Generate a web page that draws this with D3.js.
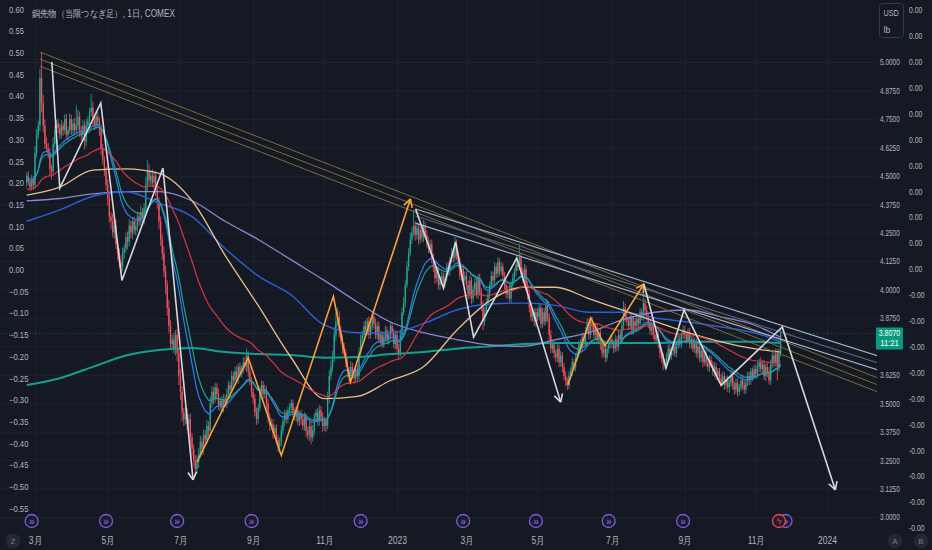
<!DOCTYPE html>
<html>
<head>
<meta charset="utf-8">
<script src="https://cdn.jsdelivr.net/npm/d3@7"></script>
<style>
html, body { margin: 0; padding: 0; background: #151924; }
svg { display: block; }
text { font-family: "Liberation Sans", Roboto, sans-serif; }
</style>
</head>
<body>
<svg id="chart" width="932" height="550"></svg>
<script>
// ---- data ----
var firstDay = new Date(2022, 1, 22);
var firstOpen = 4.47;

// daily closes, Feb 22 2022 .. Nov 22 2023 (weekdays)
var closes = [
  4.50,4.47,4.45,4.48,4.46,                                                        // Feb 22
  4.60,4.68,4.72,4.93,4.82,4.72,4.64,4.62,4.60,4.53,4.52,4.64,4.70,4.73,4.71,4.68,4.72,4.70,4.75,4.68,4.70,4.75,4.70, // Mar
  4.73,4.70,4.72,4.76,4.70,4.68,4.72,4.65,4.72,4.74,4.78,4.80,4.74,4.72,4.76,4.74,4.70,4.62,4.57,4.52,4.46, // Apr
  4.40,4.32,4.30,4.25,4.28,4.20,4.16,4.12,4.10,4.16,4.18,4.23,4.21,4.28,4.25,4.30,4.26,4.28,4.32,4.30,4.34,4.31, // May
  4.36,4.46,4.52,4.48,4.50,4.47,4.50,4.44,4.38,4.30,4.22,4.16,4.08,4.02,3.92,3.84,3.76,3.78,3.74,3.80,3.72,3.62, // Jun
  3.55,3.46,3.43,3.45,3.41,3.43,3.35,3.30,3.25,3.21,3.24,3.28,3.33,3.30,3.36,3.34,3.40,3.38,3.50,3.55,3.52, // Jul
  3.57,3.54,3.49,3.51,3.48,3.52,3.50,3.54,3.58,3.56,3.62,3.60,3.64,3.61,3.66,3.63,3.65,3.68,3.66,3.71,3.64,3.60,3.55, // Aug
  3.52,3.46,3.43,3.48,3.55,3.58,3.54,3.56,3.50,3.44,3.40,3.41,3.37,3.39,3.34,3.31,3.33,3.38,3.42,3.45,3.43,3.47, // Sep
  3.48,3.50,3.46,3.44,3.47,3.42,3.45,3.43,3.40,3.44,3.38,3.36,3.40,3.35,3.38,3.44,3.46,3.42,3.47,3.44,3.40, // Oct
  3.42,3.40,3.52,3.62,3.66,3.70,3.80,3.86,3.88,3.82,3.78,3.74,3.72,3.68,3.64,3.62,3.66,3.63,3.61,3.65,3.62,3.72, // Nov
  3.78,3.80,3.84,3.82,3.86,3.80,3.84,3.88,3.85,3.80,3.84,3.78,3.80,3.76,3.79,3.82,3.78,3.80,3.84,3.81,3.76,3.80, // Dec
  3.74,3.72,3.80,3.90,3.94,4.02,4.10,4.16,4.22,4.25,4.28,4.24,4.27,4.22,4.26,4.23,4.28,4.24,4.21,4.18,4.20,4.14, // Jan 2023
  4.10,4.05,4.08,4.02,4.04,4.06,4.03,4.05,4.10,4.08,4.13,4.16,4.14,4.20,4.15,4.12,4.06,4.09,4.04,4.06, // Feb
  4.02,3.98,4.04,3.96,4.00,4.03,3.98,4.05,3.99,3.93,3.86,3.90,3.94,3.98,4.02,4.06,4.04,4.10,4.07,4.12,4.08,4.10,4.06, // Mar
  4.02,3.98,4.00,3.96,4.02,4.05,4.08,4.11,4.10,4.14,4.08,4.05,4.09,4.02,3.98,3.92,3.88,3.90,3.86,3.90, // Apr
  3.88,3.92,3.85,3.90,3.86,3.93,3.88,3.80,3.74,3.76,3.72,3.70,3.74,3.68,3.71,3.66,3.62,3.60,3.58,3.62,3.64,3.68,3.66, // May
  3.70,3.72,3.76,3.74,3.79,3.77,3.82,3.85,3.80,3.86,3.84,3.80,3.83,3.78,3.81,3.76,3.72,3.74,3.70,3.74,3.76,3.78, // Jun
  3.76,3.74,3.78,3.75,3.80,3.78,3.84,3.92,3.88,3.86,3.84,3.88,3.82,3.86,3.84,3.87,3.85,3.90,3.88,3.94,3.91, // Jul
  3.88,3.85,3.82,3.84,3.80,3.78,3.80,3.76,3.72,3.70,3.67,3.68,3.70,3.74,3.71,3.73,3.75,3.72,3.76,3.78,3.76,3.80,3.82, // Aug
  3.80,3.78,3.81,3.76,3.78,3.74,3.77,3.72,3.75,3.70,3.73,3.68,3.71,3.68,3.66,3.69,3.67,3.64,3.66,3.62,3.64, // Sep
  3.61,3.59,3.62,3.58,3.60,3.57,3.59,3.62,3.58,3.56,3.59,3.55,3.57,3.60,3.58,3.56,3.59,3.62,3.60,3.64,3.62,3.65, // Oct
  3.63,3.66,3.68,3.65,3.67,3.62,3.66,3.64,3.60,3.67,3.71,3.68,3.72,3.66,3.72,3.807 // Nov
];

// wick above / below the body, in thousandths
var hiPad = [
  15,20,12,25,18,
  30,25,22,40,110,35,28,30,25,20,18,30,22,15,20,18,25,14,20,22,16,25,18,
  20,25,90,30,22,18,25,20,30,22,18,60,25,20,30,22,18,25,20,15,20,
  25,30,20,35,25,28,22,20,30,25,18,20,25,30,22,18,20,25,22,20,28,18,
  20,35,50,30,25,28,22,20,18,25,20,22,30,25,20,35,25,20,30,22,25,20,
  30,25,20,35,28,22,25,20,18,22,30,25,28,20,25,22,28,20,30,25,22,
  20,18,25,15,22,20,18,25,20,15,22,18,20,25,15,20,18,22,25,30,18,20,15,
  18,20,22,15,25,20,18,22,15,20,18,22,20,15,18,22,20,25,18,22,20,15,
  20,18,15,22,18,20,15,22,18,20,15,18,22,20,25,18,15,20,22,18,20,
  20,18,30,25,28,30,35,40,40,25,22,20,25,18,22,20,25,18,20,22,18,25,
  22,18,20,25,15,22,20,18,15,22,18,20,15,18,20,22,15,18,20,15,18,20,
  18,20,25,22,28,20,25,22,30,25,70,20,25,18,22,20,25,18,20,22,18,20,
  18,20,15,22,18,20,15,22,18,20,15,22,18,30,20,18,22,15,20,18,
  20,18,22,15,18,20,22,18,20,15,18,22,20,18,15,22,18,20,15,22,18,20,15,
  18,20,15,22,18,20,15,22,18,60,20,18,22,15,20,18,22,15,18,20,
  18,22,15,20,18,25,20,15,22,18,20,15,22,18,20,15,18,22,15,20,18,22,15,
  18,20,15,22,18,20,15,22,25,18,20,15,22,18,20,15,22,18,20,15,18,20,
  15,18,20,15,22,18,20,30,18,20,15,22,18,20,15,22,18,20,15,90,20,
  18,15,20,18,15,22,18,20,15,18,20,15,22,18,20,15,18,22,15,20,18,15,22,
  20,15,18,22,15,20,18,15,22,18,20,15,18,22,15,20,18,15,20,18,15,
  15,18,20,15,18,22,15,20,18,15,20,18,15,22,18,20,15,18,20,15,18,20,
  18,20,15,22,18,20,15,18,20,22,25,18,20,18,20,15
];
var loPad = [
  20,12,18,15,22,
  15,20,18,25,40,30,22,18,25,30,35,20,15,18,22,20,15,25,18,20,24,15,20,
  18,22,15,20,30,25,18,35,20,15,22,18,25,20,15,18,25,30,22,20,25,
  30,25,35,20,28,22,30,25,30,20,25,18,35,20,25,30,18,22,25,20,18,25,
  25,20,30,22,25,20,28,30,25,35,28,30,25,40,35,30,25,28,22,30,35,40,
  35,40,30,25,28,30,35,30,25,30,20,25,22,30,25,28,20,25,22,20,25,
  18,22,20,25,18,20,15,22,18,20,15,22,18,20,25,15,18,20,15,22,25,20,22,
  22,18,25,20,15,18,22,20,25,28,22,18,25,20,22,25,28,20,18,22,20,18,
  18,22,20,15,22,18,20,25,18,22,28,20,25,30,18,20,22,18,20,22,25,
  22,25,15,20,18,22,20,25,20,28,22,25,20,22,25,30,18,22,25,20,22,18,
  18,22,15,20,22,18,15,20,22,18,20,15,22,18,15,20,18,22,15,20,18,22,
  20,25,15,18,15,20,15,18,15,20,18,25,20,22,18,20,22,18,25,20,22,25,
  22,25,18,20,22,18,25,20,15,18,20,15,22,18,20,25,18,22,20,15,
  18,22,20,25,18,20,15,22,18,25,40,20,18,15,20,18,22,15,20,18,22,15,20,
  20,18,22,15,20,18,15,20,18,15,25,20,18,22,25,20,18,22,20,25,
  20,15,22,18,20,15,22,25,20,18,22,20,18,22,20,25,20,25,22,18,15,20,18,
  20,15,18,20,15,22,18,15,20,18,22,15,20,18,22,25,20,18,22,15,20,18,
  18,20,15,22,18,20,15,18,22,20,18,15,20,18,22,15,20,18,15,20,22,
  15,20,18,22,18,15,20,18,22,20,25,18,20,15,22,18,20,15,18,22,15,20,18,
  18,20,15,18,22,15,20,18,25,20,18,22,15,20,18,22,15,20,25,18,20,
  20,18,15,22,18,20,25,18,20,22,18,20,15,18,22,20,18,15,20,18,22,15,
  20,18,22,15,20,18,22,25,18,20,15,22,18,60,20,15
];

// short moving averages are computed from the closes (EMA), seeded with the first visible value
var emaPeriods = [20, 25, 75];
var emaSeeds = [4.48, 4.49, 4.44];

// long moving averages at these bar numbers
var longMaIdx = [0,20,40,60,80,100,120,140,160,180,200,220,240,260,280,300,320,340,360,380,400,420,440,456];
var maTan = [4.415,4.45,4.525,4.53,4.51,4.39,4.15,3.93,3.70,3.52,3.53,3.60,3.66,3.82,3.95,4.01,4.01,3.96,3.91,3.86,3.81,3.77,3.74,3.725];
var maPurple = [4.39,4.40,4.42,4.43,4.43,4.39,4.30,4.22,4.13,4.04,3.945,3.857,3.81,3.78,3.756,3.75,3.78,3.81,3.866,3.90,3.91,3.88,3.844,3.79];
var maDarkBlue = [4.30,4.35,4.41,4.43,4.38,4.32,4.18,4.06,3.976,3.844,3.81,3.81,3.85,3.91,3.936,3.94,3.93,3.90,3.90,3.875,3.857,3.835,3.81,3.77];
var maTeal = [3.58,3.61,3.66,3.71,3.734,3.743,3.725,3.716,3.712,3.70,3.703,3.716,3.725,3.74,3.75,3.76,3.765,3.765,3.765,3.765,3.77,3.77,3.77,3.765];

// drawn trend lines: [bar, price] pairs
var oliveLines = [
  [[7.9, 5.044], [515, 3.611]],
  [[7.9, 5.013], [515, 3.580]],
  [[7.9, 4.982], [515, 3.549]]
];
var channelLines = [
  [[235.2, 4.354], [515, 3.708]],
  [[235.2, 4.323], [515, 3.677]],
  [[235.2, 4.292], [515, 3.646]]
];

// zigzag forecasts
var zigA = [[15.2,5.0],[20,4.446],[44.8,4.82],[57.6,4.04],[82.4,4.534],[100.6,3.163]];
var zigB = [[103,3.242],[134,3.70],[154,3.27],[185.5,3.97],[195.8,3.593],[232.1,4.398]];
var zigC = [[235.2,4.354],[252.1,4.007],[259.4,4.209],[270.3,3.791],[296.4,4.138],[323,3.505]];
var zigD = [[327.3,3.58],[341.2,3.875],[349.7,3.752],[373.3,4.024]];
var zigE = [[373.3,4.024],[386.7,3.655],[397.6,3.91],[420,3.58],[457,3.835],[489.1,3.119]];

var eventIdx = [3, 48, 91, 136, 202, 264, 308, 352, 397, 459];
var alertIdx = 455;

// 3.7500 is hidden under the price tag in the reference
var priceTicks = [3.0,3.125,3.25,3.375,3.5,3.625,3.875,4.0,4.125,4.25,4.375,4.5,4.625,4.75,4.875,5.0];
var leftTicks = [0.60,0.55,0.50,0.45,0.40,0.35,0.30,0.25,0.20,0.15,0.10,0.05,0.00,-0.05,-0.10,-0.15,-0.20,-0.25,-0.30,-0.35,-0.40,-0.45,-0.50,-0.55];
var farTicks = [10,9,8,7,6,5,4,3,2,1,0,-1,-2,-3,-4,-5,-6,-7,-8,-9,-10];
var monthLabels = ["3月","5月","7月","9月","11月","2023","3月","5月","7月","9月","11月","2024"];

var lastPrice = 3.807;
var lastTime = "11:21";
var title = "銅先物（当限つなぎ足）, 1日, COMEX";

// ---- layout ----
var W = 932, H = 550;
var plotRight = 877, plotBottom = 512;
var svg = d3.select("#chart");
var TEXT = "#b2b5be";
var UP = "#22ab94", DOWN = "#f7525f";

svg.append("rect").attr("width", W).attr("height", H).attr("fill", "#151924");

// weekday calendar for the bar axis
var dates = [];
for (var d = new Date(firstDay); dates.length < 490; d.setDate(d.getDate() + 1)) {
  if (d.getDay() !== 0 && d.getDay() !== 6) dates.push(new Date(d));
}
var monthTicks = [];
for (var i = 1; i < dates.length; i++) {
  if (dates[i].getMonth() !== dates[i - 1].getMonth() && dates[i].getMonth() % 2 === 0) monthTicks.push(i);
}
monthTicks = monthTicks.slice(0, monthLabels.length);

var x = d3.scaleLinear().domain([0, 484]).range([26.7, 826.9]);
var y = d3.scaleLinear().domain([3, 5]).range([517, 62]);
var yLeft = d3.scaleLinear().domain([-0.55, 0.60]).range([508.4, 9.3]);
var yFar = d3.scaleLinear().domain([-10, 10]).range([528, 10]);

svg.append("clipPath").attr("id", "plot")
  .append("rect").attr("x", 0).attr("y", 0).attr("width", plotRight).attr("height", plotBottom);

// grid
var grid = svg.append("g").attr("class", "grid");
grid.append("g")
  .call(d3.axisRight(y).tickValues(priceTicks.concat([3.75])).tickSize(plotRight).tickFormat(""))
  .call(g => g.select(".domain").remove())
  .call(g => g.selectAll("line").attr("stroke", "#1f2330"));
grid.append("g")
  .call(d3.axisBottom(x).tickValues(monthTicks).tickSize(plotBottom).tickFormat(""))
  .call(g => g.select(".domain").remove())
  .call(g => g.selectAll("line").attr("stroke", "#1f2330"));

var plot = svg.append("g").attr("clip-path", "url(#plot)");

// current price line
plot.append("line")
  .attr("x1", 0).attr("x2", plotRight)
  .attr("y1", y(lastPrice)).attr("y2", y(lastPrice))
  .attr("stroke", "#089981").attr("stroke-opacity", 0.5)
  .attr("stroke-dasharray", "1,2");

// candles
var bars = closes.map(function (c, i) {
  var o = i === 0 ? firstOpen : closes[i - 1];
  var top = Math.max(o, c), bot = Math.min(o, c);
  return {
    i: i, o: o, c: c,
    h: top + (hiPad[i] != null ? hiPad[i] : 18) / 1000,
    l: bot - (loPad[i] != null ? loPad[i] : 18) / 1000
  };
});

var candles = plot.append("g").selectAll("g").data(bars).join("g")
  .attr("fill", d => d.c >= d.o ? UP : DOWN)
  .attr("stroke", d => d.c >= d.o ? UP : DOWN);
candles.append("line")
  .attr("x1", d => x(d.i)).attr("x2", d => x(d.i))
  .attr("y1", d => y(d.h)).attr("y2", d => y(d.l))
  .attr("stroke-width", 0.8);
candles.append("rect")
  .attr("stroke", "none")
  .attr("x", d => x(d.i) - 0.65)
  .attr("width", 1.3)
  .attr("y", d => y(Math.max(d.o, d.c)))
  .attr("height", d => Math.max(0.8, Math.abs(y(d.o) - y(d.c))));

// moving averages
function ema(vals, n, seed) {
  var k = 2 / (n + 1), e = seed;
  return vals.map(function (v) { e = e + k * (v - e); return e; });
}
var barLine = d3.line().x((v, i) => x(i)).y(v => y(v));
var sparseLine = d3.line().x((v, i) => x(longMaIdx[i])).y(v => y(v)).curve(d3.curveMonotoneX);

plot.append("path").datum(maTeal).attr("d", sparseLine)
  .attr("fill", "none").attr("stroke", "#12a08f").attr("stroke-width", 2);
plot.append("path").datum(maPurple).attr("d", sparseLine)
  .attr("fill", "none").attr("stroke", "#8e85cc").attr("stroke-width", 1.3);
plot.append("path").datum(maDarkBlue).attr("d", sparseLine)
  .attr("fill", "none").attr("stroke", "#2d5fd6").attr("stroke-width", 1.4);
plot.append("path").datum(maTan).attr("d", sparseLine)
  .attr("fill", "none").attr("stroke", "#e8bd8c").attr("stroke-width", 1.3);

var emaColors = ["#2f7df6", "#22a38f", "#d9363f"];
emaPeriods.forEach(function (n, k) {
  plot.append("path").datum(ema(closes, n, emaSeeds[k])).attr("d", barLine)
    .attr("fill", "none").attr("stroke", emaColors[k]).attr("stroke-width", 1.2);
});

// trend lines
var ptLine = d3.line().x(p => x(p[0])).y(p => y(p[1]));
oliveLines.forEach(function (l) {
  plot.append("path").datum(l).attr("d", ptLine)
    .attr("fill", "none").attr("stroke", "#7d6c36").attr("stroke-width", 1);
});
channelLines.forEach(function (l, k) {
  plot.append("path").datum(l).attr("d", ptLine)
    .attr("fill", "none").attr("stroke", k === 1 ? "#56637d" : "#9fb2cc").attr("stroke-width", 1.2);
});

// zigzags with arrow heads
function zigzag(pts, color) {
  plot.append("path").datum(pts).attr("d", ptLine)
    .attr("fill", "none").attr("stroke", color).attr("stroke-width", 1.6)
    .attr("stroke-linejoin", "miter");
  var a = pts[pts.length - 2], b = pts[pts.length - 1];
  var x1 = x(a[0]), y1 = y(a[1]), x2 = x(b[0]), y2 = y(b[1]);
  var ang = Math.atan2(y2 - y1, x2 - x1);
  [0.5, -0.5].forEach(function (s) {
    plot.append("line")
      .attr("x1", x2).attr("y1", y2)
      .attr("x2", x2 - 9 * Math.cos(ang + s)).attr("y2", y2 - 9 * Math.sin(ang + s))
      .attr("stroke", color).attr("stroke-width", 1.6);
  });
}
zigzag(zigA, "#d6d8de");
zigzag(zigB, "#f7a23b");
zigzag(zigC, "#d6d8de");
zigzag(zigD, "#f7a23b");
zigzag(zigE, "#d6d8de");

// event markers
var ev = svg.append("g").selectAll("g").data(eventIdx).join("g")
  .attr("transform", d => "translate(" + x(d) + ",521)");
ev.append("circle").attr("r", 6.5).attr("fill", "#1b1a31").attr("stroke", "#7b5fd0").attr("stroke-width", 1.3);
ev.append("text").attr("text-anchor", "middle").attr("dy", "0.35em")
  .attr("font-size", 10).attr("fill", "#8f76e6").text("»");
var al = svg.append("g").attr("transform", "translate(" + x(alertIdx) + ",521)");
al.append("circle").attr("r", 6.5).attr("fill", "#2a1a26").attr("stroke", "#e04a5f").attr("stroke-width", 1.3);
al.append("text").attr("text-anchor", "middle").attr("dy", "0.35em")
  .attr("font-size", 9).attr("fill", "#e04a5f").text("ϟ");

// axes; the reference uses a narrow face, so squeeze the glyphs a little
function squeeze(sel, f) {
  sel.each(function () {
    var w = this.getComputedTextLength();
    this.setAttribute("textLength", (w * f).toFixed(1));
    this.setAttribute("lengthAdjust", "spacingAndGlyphs");
  });
}
function styleAxis(g, size, f) {
  g.select(".domain").remove();
  g.selectAll("line").remove();
  g.selectAll("text").attr("fill", TEXT).attr("font-size", size).call(squeeze, f);
}
svg.append("g").attr("transform", "translate(" + plotRight + ",0)")
  .call(d3.axisRight(y).tickValues(priceTicks).tickFormat(d3.format(".4f")).tickSize(0).tickPadding(3))
  .call(g => styleAxis(g, 9, 0.72));
svg.append("g").attr("transform", "translate(5,0)")
  .call(d3.axisRight(yLeft).tickValues(leftTicks).tickFormat(d3.format(".2f")).tickSize(0).tickPadding(4))
  .call(g => styleAxis(g, 9, 0.85));
svg.append("g").attr("transform", "translate(906,0)")
  .call(d3.axisRight(yFar).tickValues(farTicks).tickFormat(v => v < 0 ? "-0.00" : "0.00").tickSize(0).tickPadding(3))
  .call(g => styleAxis(g, 8.5, 0.8));
svg.append("g").attr("transform", "translate(0,533)")
  .call(d3.axisBottom(x).tickValues(monthTicks).tickFormat((v, k) => monthLabels[k]).tickSize(0).tickPadding(4))
  .call(g => styleAxis(g, 10, 0.85));

// current price tag
var tag = svg.append("g").attr("transform", "translate(876," + (y(lastPrice) - 6) + ")");
tag.append("rect").attr("width", 27).attr("height", 22).attr("rx", 1).attr("fill", "#089981");
tag.append("text").attr("x", 13.5).attr("y", 9).attr("text-anchor", "middle")
  .attr("font-size", 9).attr("fill", "#ffffff").text(d3.format(".4f")(lastPrice)).call(squeeze, 0.78);
tag.append("text").attr("x", 13.5).attr("y", 19).attr("text-anchor", "middle")
  .attr("font-size", 9).attr("fill", "#ffffff").text(lastTime).call(squeeze, 0.85);

// unit box
var unit = svg.append("g").attr("transform", "translate(879.5,3.5)");
unit.append("rect").attr("width", 24).attr("height", 34).attr("rx", 3)
  .attr("fill", "#151924").attr("stroke", "#363a45");
unit.append("text").attr("x", 4).attr("y", 12).attr("font-size", 8.5).attr("fill", TEXT).text("USD").call(squeeze, 0.85);
unit.append("text").attr("x", 4).attr("y", 29).attr("font-size", 8.5).attr("fill", TEXT).text("lb");

// corner buttons
[["Z", 13], ["A", 895], ["B", 921]].forEach(function (b) {
  var g = svg.append("g").attr("transform", "translate(" + b[1] + ",541)");
  g.append("circle").attr("r", 7.5).attr("fill", "#242833");
  g.append("text").attr("text-anchor", "middle").attr("dy", "0.35em")
    .attr("font-size", 8).attr("fill", "#787b86").text(b[0]);
});

// title
svg.append("text").attr("x", 32).attr("y", 17)
  .attr("font-family", "'Noto Sans CJK JP', 'Noto Sans', sans-serif")
  .attr("font-size", 10).attr("fill", TEXT)
  .attr("textLength", 143).attr("lengthAdjust", "spacingAndGlyphs")
  .text(title);
</script>
</body>
</html>
